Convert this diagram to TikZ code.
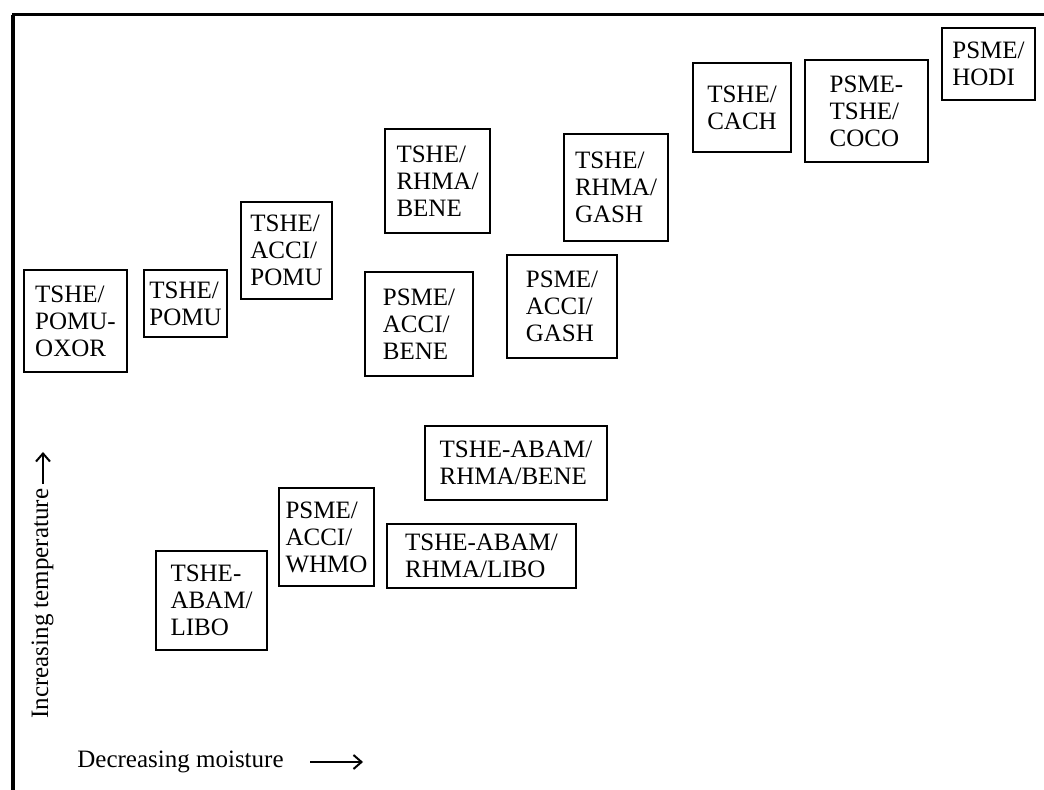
\documentclass[tikz,border=0pt]{standalone}
\usepackage{fontspec}
\setmainfont{Liberation Serif}
\usepackage{tikz}
\usetikzlibrary{arrows.meta}

\begin{document}
\begin{tikzpicture}[x=0.5pt,y=-0.5pt,assoc/.style={draw=black,line width=1.3pt,inner sep=0pt,align=left,font=\fontsize{12.5}{13.5}\selectfont},axlab/.style={inner sep=0pt,font=\fontsize{12.5}{13.5}\selectfont},axarr/.style={line width=1pt,-{Straight Barb[length=4pt,width=7pt]}}]
\useasboundingbox (0,0) rectangle (1044,790);

\draw[line width=2pt] (13,790) -- (13,15);
\draw[line width=1.5pt] (12,15) -- (1044,15);

% upper group
\node[assoc,minimum width=51.5pt,minimum height=51pt] (pomuoxor) at (75.5,321) {TSHE/\\POMU-\\OXOR};
\node[assoc,minimum width=41.5pt,minimum height=33.5pt] (pomu) at (185.5,303.5) {TSHE/\\POMU};
\node[assoc,minimum width=45.5pt,minimum height=48.5pt] (accipomu) at (286.5,250.5) {TSHE/\\ACCI/\\POMU};
\node[assoc,minimum width=52.5pt,minimum height=52pt] (rhmabene) at (437.5,181) {TSHE/\\RHMA/\\BENE};
\node[assoc,minimum width=54pt,minimum height=52pt] (accibene) at (419,324) {PSME/\\ACCI/\\BENE};
\node[assoc,minimum width=52pt,minimum height=53.5pt] (rhmagash) at (616,187.5) {TSHE/\\RHMA/\\GASH};
\node[assoc,minimum width=55pt,minimum height=51.5pt] (accigash) at (562,306.5) {PSME/\\ACCI/\\GASH};
\node[assoc,minimum width=49pt,minimum height=44.5pt] (cach) at (742,107.5) {TSHE/\\CACH};
\node[assoc,minimum width=61.5pt,minimum height=51pt] (coco) at (866.5,111) {PSME-\\TSHE/\\COCO};
\node[assoc,minimum width=46.5pt,minimum height=36pt] (hodi) at (988.5,64) {PSME/\\HODI};

% lower group
\node[assoc,minimum width=91pt,minimum height=37pt] (abambene) at (516,463) {TSHE-ABAM/\\RHMA/BENE};
\node[assoc,minimum width=47.5pt,minimum height=49pt] (whmo) at (326.5,537) {PSME/\\ACCI/\\WHMO};
\node[assoc,minimum width=94.5pt,minimum height=32pt] (abamlibo) at (481.5,556) {TSHE-ABAM/\\RHMA/LIBO};
\node[assoc,minimum width=55.5pt,minimum height=49.5pt] (libo) at (211.5,600.5) {TSHE-\\ABAM/\\LIBO};

% axes
\node[axlab,rotate=90,anchor=base west] (temp) at (48,719) {Increasing temperature};
\coordinate (t0) at (43,484);
\coordinate (t1) at (43,452);
\draw[axarr] (t0) -- (t1);
\node[axlab,anchor=base west] (moist) at (77,767) {Decreasing moisture};
\coordinate (m0) at (310,762);
\coordinate (m1) at (363,762);
\draw[axarr] (m0) -- (m1);

\end{tikzpicture}
\end{document}
